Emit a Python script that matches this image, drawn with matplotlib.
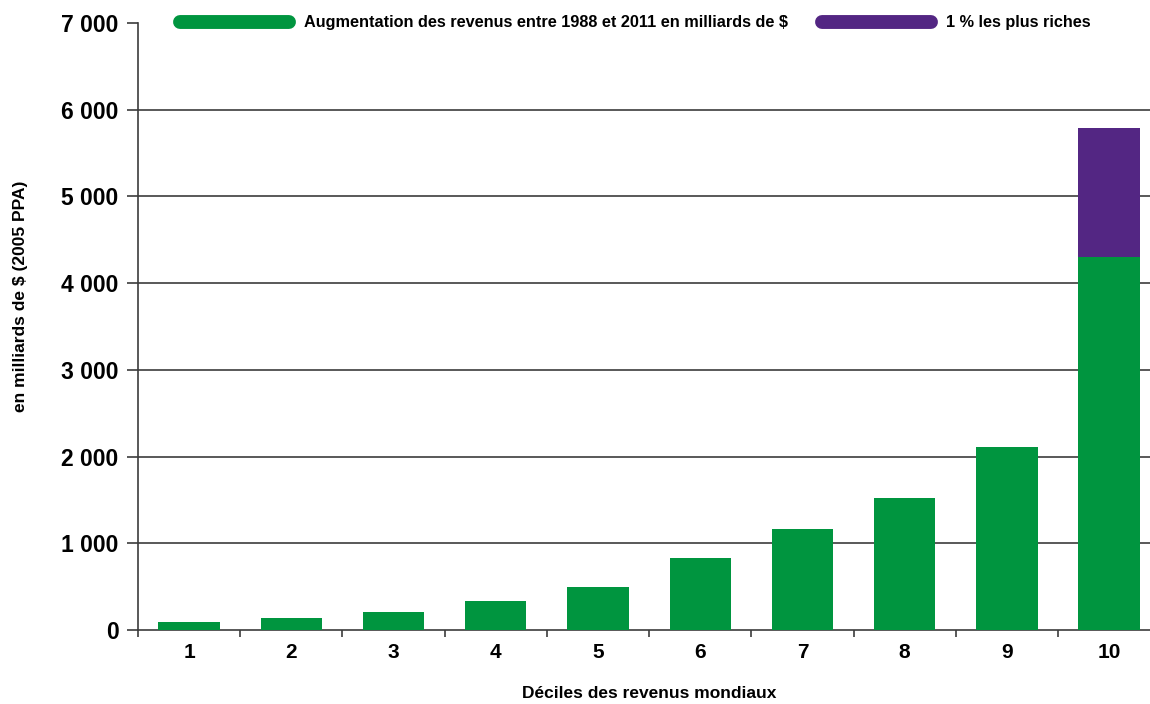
import matplotlib
matplotlib.use("Agg")
import matplotlib.pyplot as plt
from matplotlib.lines import Line2D
from matplotlib.ticker import FuncFormatter, FixedLocator

plt.rcParams['font.family'] = ['Liberation Sans', 'DejaVu Sans']

# Données (milliards de $, PPA 2005)
deciles = ['1', '2', '3', '4', '5', '6', '7', '8', '9', '10']
hausse_revenus = [88, 134, 207, 331, 500, 830, 1168, 1522, 2108, 4299]
top_1pct = [0, 0, 0, 0, 0, 0, 0, 0, 0, 1494]

vert = '#00953f'
violet = '#532683'
gris = '#3c3c3c'

fig = plt.figure(figsize=(11.5, 7.04), dpi=100)
ax = fig.add_axes([138 / 1150, 1 - 630 / 704, 1 - 138 / 1150, (630 - 23) / 704])

x = list(range(len(deciles)))
ax.bar(x, hausse_revenus, width=0.6, color=vert, zorder=3)
ax.bar(x, top_1pct, width=0.6, bottom=hausse_revenus, color=violet, zorder=3)

ax.yaxis.set_major_locator(FixedLocator(range(0, 7001, 1000)))
ax.yaxis.set_major_formatter(FuncFormatter(lambda v, p: f"{int(v):,}".replace(",", " ")))
for y in range(1000, 7000, 1000):
    ax.axhline(y, color=gris, lw=1.2, zorder=1)

# ticks aux limites des catégories, étiquettes au centre
ax.set_xticks([i - 0.5 for i in range(len(deciles) + 1)])
ax.set_xticklabels([])
ax.set_xticks(x, minor=True)
ax.set_xticklabels(deciles, minor=True)
ax.tick_params(axis='x', which='minor', length=0, pad=9, labelsize=15)
ax.tick_params(axis='x', which='major', length=5, width=1.2, color=gris, direction='out')
ax.tick_params(axis='y', length=8, width=1.2, color=gris, pad=6, labelsize=16.5)
for lab in ax.get_xticklabels(minor=True) + ax.get_yticklabels():
    lab.set_fontweight('bold')

# limites après set_xticks (qui les élargit sinon)
ax.set_ylim(0, 7000)
ax.set_xlim(-0.5, 9.4)

for s in ['top', 'right']:
    ax.spines[s].set_visible(False)
ax.spines['left'].set_color(gris)
ax.spines['left'].set_linewidth(1.2)
ax.spines['bottom'].set_color(gris)
ax.spines['bottom'].set_linewidth(1.2)

fig.text(21 / 1150, 1 - 296 / 704, 'en milliards de $ (2005 PPA)', rotation=90,
         ha='center', va='center', fontsize=12.5, fontweight='bold')
fig.text(649 / 1150, 1 - 693 / 704, 'Déciles des revenus mondiaux',
         ha='center', va='center', fontsize=12.5, fontweight='bold')

handles = [
    Line2D([0], [0], color=vert, lw=10, solid_capstyle='round'),
    Line2D([0], [0], color=violet, lw=10, solid_capstyle='round'),
]
leg = ax.legend(handles, ['Augmentation des revenus entre 1988 et 2011 en milliards de $',
                          '1 % les plus riches'],
                ncol=2, frameon=False, handlelength=6.7, handletextpad=0.9,
                columnspacing=2.15, loc='center left',
                bbox_to_anchor=(180 / 1150, 1 - 23 / 704), bbox_transform=fig.transFigure,
                borderaxespad=0, borderpad=0,
                prop={'weight': 'bold', 'size': 11.7})

fig.savefig('out.png', dpi=100)
